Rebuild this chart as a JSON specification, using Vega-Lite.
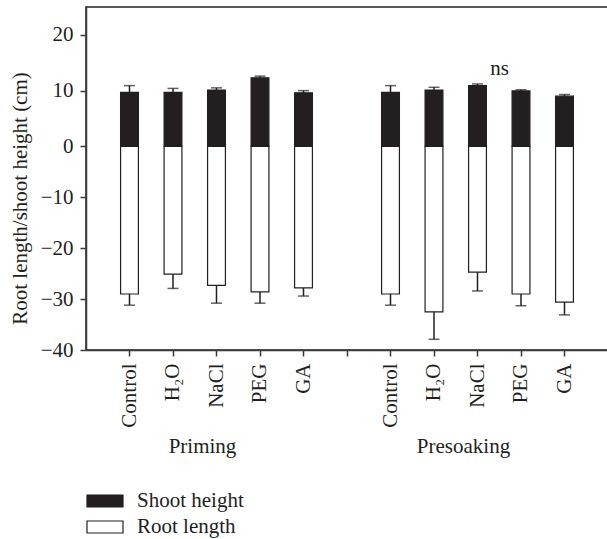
{
  "$schema": "https://vega.github.io/schema/vega-lite/v6.json",
  "width": 522,
  "height": 343,
  "autosize": "none",
  "padding": {"left": 86, "top": 7, "right": 0, "bottom": 189},
  "config": {
    "font": "Liberation Serif",
    "view": {"stroke": "#231f20", "strokeWidth": 1.5},
    "axis": {
      "labelFont": "Liberation Serif",
      "labelFontSize": 21,
      "labelColor": "#231f20",
      "titleFont": "Liberation Serif",
      "titleFontSize": 21,
      "titleFontWeight": "normal",
      "titleColor": "#231f20",
      "domainColor": "#3a3a3a",
      "domainWidth": 1.5,
      "tickColor": "#3a3a3a",
      "tickWidth": 1.5,
      "tickSize": 6,
      "grid": false
    },
    "legend": {"labelFont": "Liberation Serif"}
  },
  "datasets": {
    "bars": [
      {"cat": "P|Control", "measure": "Shoot height", "value": 9.7, "errEnd": 10.9},
      {"cat": "P|H₂O", "measure": "Shoot height", "value": 9.7, "errEnd": 10.4},
      {"cat": "P|NaCl", "measure": "Shoot height", "value": 10.1, "errEnd": 10.5},
      {"cat": "P|PEG", "measure": "Shoot height", "value": 12.3, "errEnd": 12.6},
      {"cat": "P|GA", "measure": "Shoot height", "value": 9.6, "errEnd": 10.0},
      {"cat": "S|Control", "measure": "Shoot height", "value": 9.7, "errEnd": 10.9},
      {"cat": "S|H₂O", "measure": "Shoot height", "value": 10.1, "errEnd": 10.6},
      {"cat": "S|NaCl", "measure": "Shoot height", "value": 10.9, "errEnd": 11.2},
      {"cat": "S|PEG", "measure": "Shoot height", "value": 9.95, "errEnd": 10.15},
      {"cat": "S|GA", "measure": "Shoot height", "value": 9.0, "errEnd": 9.3},
      {"cat": "P|Control", "measure": "Root length", "value": -29.0, "errEnd": -31.2},
      {"cat": "P|H₂O", "measure": "Root length", "value": -25.1, "errEnd": -27.9},
      {"cat": "P|NaCl", "measure": "Root length", "value": -27.3, "errEnd": -30.8},
      {"cat": "P|PEG", "measure": "Root length", "value": -28.6, "errEnd": -30.8},
      {"cat": "P|GA", "measure": "Root length", "value": -27.8, "errEnd": -29.4},
      {"cat": "S|Control", "measure": "Root length", "value": -29.0, "errEnd": -31.2},
      {"cat": "S|H₂O", "measure": "Root length", "value": -32.5, "errEnd": -37.9},
      {"cat": "S|NaCl", "measure": "Root length", "value": -24.7, "errEnd": -28.4},
      {"cat": "S|PEG", "measure": "Root length", "value": -29.0, "errEnd": -31.3},
      {"cat": "S|GA", "measure": "Root length", "value": -30.6, "errEnd": -33.1}
    ],
    "groups": [
      {"cat": "P|NaCl", "label": "Priming"},
      {"cat": "S|NaCl", "label": "Presoaking"}
    ],
    "notes": [
      {"cat": "S|NaCl", "label": "ns", "value": 12.8}
    ]
  },
  "layer": [
    {
      "data": {"name": "bars"},
      "mark": {"type": "bar", "stroke": "#231f20", "strokeWidth": 1.2},
      "encoding": {
        "x": {
          "field": "cat",
          "type": "nominal",
          "sort": null,
          "scale": {
            "domain": ["P|Control", "P|H₂O", "P|NaCl", "P|PEG", "P|GA", "gap", "S|Control", "S|H₂O", "S|NaCl", "S|PEG", "S|GA"],
            "paddingInner": 0.59,
            "paddingOuter": 0.795
          },
          "axis": {
            "title": null,
            "labelAngle": -90,
            "labelPadding": 7,
            "labelExpr": "indexof(datum.value, '|') >= 0 ? split(datum.value, '|')[1] : ''"
          }
        },
        "y": {
          "field": "value",
          "type": "quantitative",
          "stack": null,
          "scale": {"domain": [-40, 0, 25], "range": [343, 139.4, 0], "nice": false, "zero": false},
          "axis": {
            "title": "Root length/shoot height (cm)",
            "values": [-40, -30, -20, -10, 0, 10, 20],
            "labelPadding": 7,
            "titlePadding": 10,
            "titleY": 191
          }
        },
        "y2": {"datum": 0},
        "color": {
          "field": "measure",
          "type": "nominal",
          "scale": {"domain": ["Shoot height", "Root length"], "range": ["#231f20", "#ffffff"]},
          "legend": {
            "title": null,
            "orient": "none",
            "legendX": 8,
            "legendY": 483,
            "symbolType": "M-1.8,-0.6L1.8,-0.6L1.8,0.6L-1.8,0.6Z",
            "symbolSize": 400,
            "symbolStrokeColor": "#231f20",
            "symbolStrokeWidth": 1.2,
            "symbolOpacity": 1,
            "labelFontSize": 21,
            "labelColor": "#231f20",
            "labelOffset": 21,
            "rowPadding": 5
          }
        }
      }
    },
    {
      "data": {"name": "bars"},
      "mark": {"type": "rule", "color": "#231f20", "strokeWidth": 1.5},
      "encoding": {
        "x": {"field": "cat", "type": "nominal", "sort": null},
        "y": {"field": "value", "type": "quantitative"},
        "y2": {"field": "errEnd"}
      }
    },
    {
      "data": {"name": "bars"},
      "mark": {"type": "tick", "color": "#231f20", "thickness": 1.5, "size": 11},
      "encoding": {
        "x": {"field": "cat", "type": "nominal", "sort": null},
        "y": {"field": "errEnd", "type": "quantitative"}
      }
    },
    {
      "mark": {"type": "rule", "color": "#3a3a3a", "strokeWidth": 1.5},
      "encoding": {"y": {"datum": 0}}
    },
    {
      "data": {"name": "groups"},
      "mark": {"type": "text", "fontSize": 21, "color": "#231f20", "baseline": "alphabetic", "dy": 103, "dx": -14},
      "encoding": {
        "x": {"field": "cat", "type": "nominal", "sort": null},
        "y": {"datum": -40},
        "text": {"field": "label"}
      }
    },
    {
      "data": {"name": "notes"},
      "mark": {"type": "text", "fontSize": 21, "color": "#231f20", "baseline": "alphabetic", "dx": 22},
      "encoding": {
        "x": {"field": "cat", "type": "nominal", "sort": null},
        "y": {"field": "value", "type": "quantitative"},
        "text": {"field": "label"}
      }
    }
  ]
}
